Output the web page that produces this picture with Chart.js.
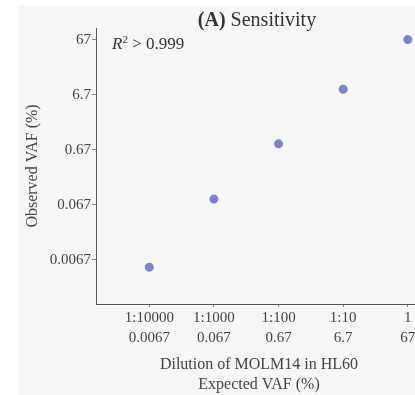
<!DOCTYPE html>
<html>
<head>
<meta charset="utf-8">
<script src="https://cdn.jsdelivr.net/npm/chart.js@4.4.1/dist/chart.umd.min.js"></script>
<style>
  html, body { margin: 0; padding: 0; background: #ffffff; width: 415px; height: 395px; overflow: hidden; }
  #panel { position: absolute; left: 18px; top: 5px; width: 412px; height: 390px; background: #f7f7f7; }
  #chart { position: absolute; left: 0; top: 0; }
  .txt { position: absolute; font-family: "Liberation Serif", "Times New Roman", serif; color: #333; white-space: nowrap; }
  #title { font-size: 20px; left: 139px; top: 3px; width: 200px; text-align: center; }
  #r2 { font-size: 17px; left: 94px; top: 29px; }
  #r2 sup { font-size: 11px; vertical-align: 6px; line-height: 0; }
</style>
</head>
<body>
<div id="panel">
  <canvas id="chart" width="412" height="390"></canvas>
  <div id="title" class="txt"><b>(A)</b> Sensitivity</div>
  <div id="r2" class="txt"><i>R</i><sup>2</sup> &gt; 0.999</div>
</div>
<script>
// ---- data ----
const dilutions = ["1:10000", "1:1000", "1:100", "1:10", "1"];
const expectedVAF = ["0.0067", "0.067", "0.67", "6.7", "67"];
const observedVAF = [0.0049, 0.085, 0.86, 8.5, 68];
const yTickValues = [0.0067, 0.067, 0.67, 6.7, 67];
const yTickLabels = ["0.0067", "0.067", "0.67", "6.7", "67"];

const points = observedVAF.map((v, i) => ({ x: i, y: v }));
const FONT = "'Liberation Serif', 'Times New Roman', serif";
const TEXT = '#444';

new Chart(document.getElementById('chart'), {
  type: 'scatter',
  data: {
    datasets: [{
      data: points,
      backgroundColor: '#7e82c8',
      borderColor: '#7e82c8',
      pointRadius: 4.5,
      pointHoverRadius: 4.5,
      borderWidth: 0
    }]
  },
  options: {
    responsive: false,
    animation: false,
    events: [],
    layout: { padding: { left: 0, right: 8, top: 23, bottom: 0 } },
    plugins: { legend: { display: false }, tooltip: { enabled: false }, title: { display: false } },
    scales: {
      x: {
        type: 'linear',
        min: -0.825,
        max: 4.22,
        afterBuildTicks: (s) => { s.ticks = dilutions.map((d, i) => ({ value: i })); },
        afterFit: (s) => { s.height = 91; },
        ticks: {
          autoSkip: false,
          maxRotation: 0,
          padding: 1,
          color: TEXT,
          font: { family: FONT, size: 15, lineHeight: 1.35 },
          callback: (v) => [dilutions[v], expectedVAF[v]]
        },
        grid: { drawOnChartArea: false, drawTicks: true, tickLength: 3, color: '#888' },
        border: { display: true, color: '#555', width: 1 },
        title: {
          display: true,
          text: ['Dilution of MOLM14 in HL60', 'Expected VAF (%)'],
          color: TEXT,
          font: { family: FONT, size: 16, lineHeight: 1.27 },
          padding: { top: 6, bottom: 0 }
        }
      },
      y: {
        type: 'logarithmic',
        min: 0.001045,
        max: 110.7,
        afterBuildTicks: (s) => { s.ticks = yTickValues.map(v => ({ value: v })); },
        afterFit: (s) => { s.width = 78; },
        ticks: {
          autoSkip: false,
          padding: 1,
          color: TEXT,
          font: { family: FONT, size: 15 },
          callback: (v) => { const i = yTickValues.indexOf(v); return i >= 0 ? yTickLabels[i] : ''; }
        },
        grid: { drawOnChartArea: false, drawTicks: true, tickLength: 4, color: '#888' },
        border: { display: true, color: '#555', width: 1 },
        title: {
          display: true,
          text: 'Observed VAF (%)',
          color: TEXT,
          font: { family: FONT, size: 16 },
          padding: { top: 5, bottom: 0 }
        }
      }
    }
  }
});
</script>
</body>
</html>
